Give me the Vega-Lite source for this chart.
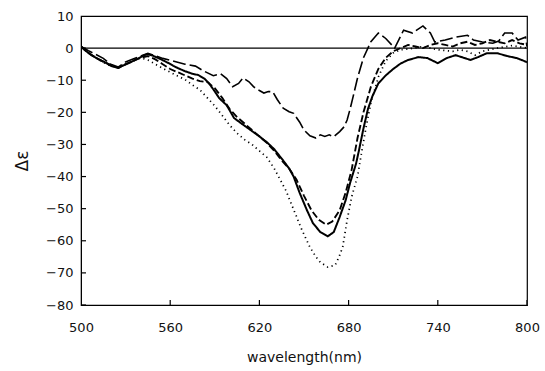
{
  "$schema": "https://vega.github.io/schema/vega-lite/v6.json",
  "width": 446,
  "height": 289,
  "autosize": "none",
  "padding": {"left": 81, "top": 16, "right": 18, "bottom": 66},
  "background": "white",
  "config": {
    "view": {"stroke": "black", "strokeWidth": 1.2},
    "axis": {"labelFont": "DejaVu Sans", "titleFont": "DejaVu Sans", "labelColor": "#111", "titleColor": "#111", "domainColor": "black", "labelFontSize": 13}
  },
  "datasets": {
    "curves": [
      {"s":"solid","x":500,"y":0.5},{"s":"solid","x":503,"y":-0.8},{"s":"solid","x":507,"y":-2.2},{"s":"solid","x":512,"y":-3.5},{"s":"solid","x":516,"y":-4.4},{"s":"solid","x":520,"y":-5.5},{"s":"solid","x":525,"y":-6.2},{"s":"solid","x":528,"y":-5.5},{"s":"solid","x":532,"y":-4.7},{"s":"solid","x":536,"y":-3.8},{"s":"solid","x":539,"y":-3.1},{"s":"solid","x":542,"y":-2.3},{"s":"solid","x":545,"y":-1.9},{"s":"solid","x":548,"y":-2.3},{"s":"solid","x":552,"y":-3.1},{"s":"solid","x":556,"y":-4},{"s":"solid","x":559,"y":-4.7},{"s":"solid","x":562,"y":-5.5},{"s":"solid","x":565,"y":-6.2},{"s":"solid","x":570,"y":-7.2},{"s":"solid","x":575,"y":-8},{"s":"solid","x":579,"y":-8.4},{"s":"solid","x":583,"y":-9.5},{"s":"solid","x":586,"y":-10.9},{"s":"solid","x":590,"y":-13.5},{"s":"solid","x":593,"y":-15.6},{"s":"solid","x":598,"y":-17.8},{"s":"solid","x":603,"y":-21.8},{"s":"solid","x":608,"y":-23.5},{"s":"solid","x":614,"y":-25.5},{"s":"solid","x":620,"y":-27.5},{"s":"solid","x":625,"y":-29.3},{"s":"solid","x":630,"y":-31.5},{"s":"solid","x":636,"y":-35},{"s":"solid","x":640,"y":-37.5},{"s":"solid","x":643,"y":-40},{"s":"solid","x":647,"y":-45},{"s":"solid","x":652,"y":-50.5},{"s":"solid","x":656,"y":-54.5},{"s":"solid","x":661,"y":-57.3},{"s":"solid","x":666,"y":-58.6},{"s":"solid","x":670,"y":-57.3},{"s":"solid","x":674,"y":-52.6},{"s":"solid","x":678,"y":-47.4},{"s":"solid","x":681,"y":-42},{"s":"solid","x":685,"y":-36},{"s":"solid","x":687,"y":-31.8},{"s":"solid","x":690,"y":-25},{"s":"solid","x":693,"y":-19},{"s":"solid","x":696,"y":-15},{"s":"solid","x":700,"y":-11},{"s":"solid","x":705,"y":-8.5},{"s":"solid","x":710,"y":-6.5},{"s":"solid","x":715,"y":-4.8},{"s":"solid","x":720,"y":-3.7},{"s":"solid","x":727,"y":-2.8},{"s":"solid","x":733,"y":-3.1},{"s":"solid","x":740,"y":-4.7},{"s":"solid","x":746,"y":-3.1},{"s":"solid","x":752,"y":-2.2},{"s":"solid","x":758,"y":-3.1},{"s":"solid","x":762,"y":-3.7},{"s":"solid","x":767,"y":-2.8},{"s":"solid","x":773,"y":-1.6},{"s":"solid","x":780,"y":-1.6},{"s":"solid","x":787,"y":-2.5},{"s":"solid","x":793,"y":-3.1},{"s":"solid","x":797,"y":-3.8},{"s":"solid","x":800,"y":-4.4},

      {"s":"mdash","x":500,"y":0.5},{"s":"mdash","x":505,"y":-1.5},{"s":"mdash","x":510,"y":-3},{"s":"mdash","x":515,"y":-4.2},{"s":"mdash","x":520,"y":-5.2},{"s":"mdash","x":525,"y":-6.2},{"s":"mdash","x":530,"y":-5},{"s":"mdash","x":535,"y":-4},{"s":"mdash","x":540,"y":-3},{"s":"mdash","x":545,"y":-2.5},{"s":"mdash","x":550,"y":-3.5},{"s":"mdash","x":555,"y":-5},{"s":"mdash","x":560,"y":-6.5},{"s":"mdash","x":565,"y":-7.5},{"s":"mdash","x":570,"y":-8.5},{"s":"mdash","x":575,"y":-9.5},{"s":"mdash","x":580,"y":-10.3},{"s":"mdash","x":585,"y":-10.6},{"s":"mdash","x":590,"y":-12.5},{"s":"mdash","x":595,"y":-15.5},{"s":"mdash","x":600,"y":-19},{"s":"mdash","x":605,"y":-21.5},{"s":"mdash","x":610,"y":-23.5},{"s":"mdash","x":615,"y":-25.5},{"s":"mdash","x":620,"y":-27.5},{"s":"mdash","x":625,"y":-29.5},{"s":"mdash","x":630,"y":-32},{"s":"mdash","x":635,"y":-35},{"s":"mdash","x":640,"y":-37.5},{"s":"mdash","x":645,"y":-41},{"s":"mdash","x":650,"y":-46},{"s":"mdash","x":655,"y":-50.5},{"s":"mdash","x":660,"y":-53.5},{"s":"mdash","x":665,"y":-55},{"s":"mdash","x":669,"y":-54},{"s":"mdash","x":674,"y":-50.5},{"s":"mdash","x":678,"y":-45},{"s":"mdash","x":682,"y":-38},{"s":"mdash","x":686,"y":-28},{"s":"mdash","x":690,"y":-20},{"s":"mdash","x":695,"y":-12},{"s":"mdash","x":700,"y":-6.5},{"s":"mdash","x":705,"y":-3},{"s":"mdash","x":710,"y":-1},{"s":"mdash","x":715,"y":0},{"s":"mdash","x":720,"y":1},{"s":"mdash","x":725,"y":0.5},{"s":"mdash","x":730,"y":0},{"s":"mdash","x":735,"y":1},{"s":"mdash","x":740,"y":1.5},{"s":"mdash","x":745,"y":1},{"s":"mdash","x":750,"y":0.5},{"s":"mdash","x":755,"y":1.5},{"s":"mdash","x":760,"y":2},{"s":"mdash","x":765,"y":1},{"s":"mdash","x":770,"y":1.5},{"s":"mdash","x":775,"y":2.5},{"s":"mdash","x":780,"y":2},{"s":"mdash","x":785,"y":1.5},{"s":"mdash","x":790,"y":2.5},{"s":"mdash","x":795,"y":1.5},{"s":"mdash","x":800,"y":1},

      {"s":"dot","x":500,"y":0.5},{"s":"dot","x":505,"y":-1.5},{"s":"dot","x":510,"y":-3},{"s":"dot","x":515,"y":-4.5},{"s":"dot","x":520,"y":-5.5},{"s":"dot","x":525,"y":-6},{"s":"dot","x":530,"y":-5},{"s":"dot","x":535,"y":-4},{"s":"dot","x":540,"y":-3},{"s":"dot","x":545,"y":-3.7},{"s":"dot","x":550,"y":-5},{"s":"dot","x":555,"y":-6.3},{"s":"dot","x":560,"y":-7.5},{"s":"dot","x":565,"y":-8.7},{"s":"dot","x":570,"y":-9.8},{"s":"dot","x":575,"y":-11.5},{"s":"dot","x":580,"y":-13},{"s":"dot","x":585,"y":-15.5},{"s":"dot","x":590,"y":-18},{"s":"dot","x":595,"y":-21},{"s":"dot","x":600,"y":-24},{"s":"dot","x":605,"y":-26.5},{"s":"dot","x":610,"y":-28.5},{"s":"dot","x":615,"y":-30},{"s":"dot","x":620,"y":-32},{"s":"dot","x":625,"y":-34},{"s":"dot","x":630,"y":-37.5},{"s":"dot","x":634,"y":-41},{"s":"dot","x":638,"y":-44.5},{"s":"dot","x":641,"y":-48},{"s":"dot","x":645,"y":-52.5},{"s":"dot","x":648,"y":-56},{"s":"dot","x":651,"y":-59},{"s":"dot","x":654,"y":-62},{"s":"dot","x":658,"y":-65},{"s":"dot","x":661,"y":-66.7},{"s":"dot","x":666,"y":-68.2},{"s":"dot","x":671,"y":-67.6},{"s":"dot","x":674,"y":-64.5},{"s":"dot","x":676,"y":-62},{"s":"dot","x":679,"y":-53.6},{"s":"dot","x":682,"y":-46.4},{"s":"dot","x":686,"y":-40},{"s":"dot","x":689,"y":-31.8},{"s":"dot","x":692,"y":-24},{"s":"dot","x":695,"y":-17},{"s":"dot","x":700,"y":-9},{"s":"dot","x":705,"y":-4},{"s":"dot","x":710,"y":-1.5},{"s":"dot","x":715,"y":-0.5},{"s":"dot","x":720,"y":-0.3},{"s":"dot","x":730,"y":0.5},{"s":"dot","x":740,"y":-0.5},{"s":"dot","x":750,"y":-1},{"s":"dot","x":755,"y":-0.5},{"s":"dot","x":760,"y":-1},{"s":"dot","x":765,"y":-2.2},{"s":"dot","x":770,"y":-1},{"s":"dot","x":780,"y":0},{"s":"dot","x":790,"y":0.8},{"s":"dot","x":800,"y":0},

      {"s":"ldash","x":500,"y":0.5},{"s":"ldash","x":505,"y":-0.8},{"s":"ldash","x":510,"y":-2},{"s":"ldash","x":515,"y":-3.2},{"s":"ldash","x":520,"y":-5},{"s":"ldash","x":525,"y":-5.9},{"s":"ldash","x":530,"y":-4.3},{"s":"ldash","x":535,"y":-3.4},{"s":"ldash","x":540,"y":-2.5},{"s":"ldash","x":545,"y":-1.6},{"s":"ldash","x":550,"y":-2.4},{"s":"ldash","x":555,"y":-3.2},{"s":"ldash","x":560,"y":-3.8},{"s":"ldash","x":565,"y":-4.4},{"s":"ldash","x":570,"y":-5},{"s":"ldash","x":577,"y":-5.6},{"s":"ldash","x":582,"y":-7},{"s":"ldash","x":589,"y":-8.6},{"s":"ldash","x":594,"y":-8},{"s":"ldash","x":598,"y":-9.5},{"s":"ldash","x":602,"y":-12},{"s":"ldash","x":606,"y":-11},{"s":"ldash","x":609,"y":-9.3},{"s":"ldash","x":613,"y":-10.5},{"s":"ldash","x":616,"y":-12},{"s":"ldash","x":620,"y":-13.2},{"s":"ldash","x":623,"y":-14},{"s":"ldash","x":626,"y":-13.5},{"s":"ldash","x":629,"y":-13.6},{"s":"ldash","x":632,"y":-16},{"s":"ldash","x":636,"y":-18.7},{"s":"ldash","x":640,"y":-19.8},{"s":"ldash","x":643,"y":-20.3},{"s":"ldash","x":647,"y":-23},{"s":"ldash","x":650,"y":-25.5},{"s":"ldash","x":654,"y":-27.3},{"s":"ldash","x":658,"y":-28},{"s":"ldash","x":661,"y":-27},{"s":"ldash","x":664,"y":-27.5},{"s":"ldash","x":667,"y":-27},{"s":"ldash","x":670,"y":-27.6},{"s":"ldash","x":674,"y":-26},{"s":"ldash","x":677,"y":-24.5},{"s":"ldash","x":679,"y":-22.4},{"s":"ldash","x":681,"y":-19},{"s":"ldash","x":683,"y":-15.2},{"s":"ldash","x":686,"y":-9.3},{"s":"ldash","x":690,"y":-3},{"s":"ldash","x":695,"y":2},{"s":"ldash","x":700,"y":4.7},{"s":"ldash","x":705,"y":3},{"s":"ldash","x":711,"y":0},{"s":"ldash","x":717,"y":5.6},{"s":"ldash","x":723,"y":4.7},{"s":"ldash","x":730,"y":6.9},{"s":"ldash","x":735,"y":4.7},{"s":"ldash","x":738,"y":1.9},{"s":"ldash","x":745,"y":2.5},{"s":"ldash","x":752,"y":3.4},{"s":"ldash","x":760,"y":4},{"s":"ldash","x":764,"y":2.5},{"s":"ldash","x":770,"y":1.9},{"s":"ldash","x":777,"y":1.5},{"s":"ldash","x":781,"y":2.2},{"s":"ldash","x":785,"y":4.7},{"s":"ldash","x":790,"y":4.7},{"s":"ldash","x":794,"y":2.5},{"s":"ldash","x":799,"y":3.4},{"s":"ldash","x":800,"y":0.5}
    ]
  },
  "resolve": {"axis": {"x": "independent", "y": "independent"}},
  "layer": [
    {
      "data": {"name": "curves"},
      "mark": {"type": "line", "color": "black", "clip": true},
      "encoding": {
        "x": {"field": "x", "type": "quantitative", "scale": {"domain": [500, 800], "nice": false, "zero": false},
              "axis": {"orient": "bottom", "values": [500, 560, 620, 680, 740, 800], "title": "wavelength(nm)", "titleFontSize": 14, "titleFontWeight": "normal", "titlePadding": 16, "ticks": false, "labelPadding": 16, "labelFlush": false, "labelOverlap": false, "grid": false}},
        "y": {"field": "y", "type": "quantitative", "scale": {"domain": [-80, 10], "nice": false},
              "axis": {"orient": "left", "values": [-80, -70, -60, -50, -40, -30, -20, -10, 0, 10], "title": "Δε", "titleFontSize": 17, "titleFontWeight": "normal", "titlePadding": 14, "ticks": false, "labelPadding": 8, "labelOverlap": false, "labelFlush": false, "grid": false}},
        "detail": {"field": "s"},
        "strokeDash": {"field": "s", "type": "nominal", "scale": {"domain": ["solid", "mdash", "dot", "ldash"], "range": [[1, 0], [7, 3], [1.2, 3.5], [13, 4]]}, "legend": null},
        "strokeWidth": {"field": "s", "type": "nominal", "scale": {"domain": ["solid", "mdash", "dot", "ldash"], "range": [2, 1.6, 1.3, 1.6]}, "legend": null}
      }
    },
    {
      "data": {"values": [{"zero": 0}]},
      "mark": {"type": "rule", "color": "black", "strokeWidth": 1.2},
      "encoding": {"y": {"field": "zero", "type": "quantitative", "axis": null}}
    },
    {
      "data": {"values": [{"v": -80}, {"v": -70}, {"v": -60}, {"v": -50}, {"v": -40}, {"v": -30}, {"v": -20}, {"v": -10}, {"v": 0}, {"v": 10}]},
      "mark": {"type": "tick", "orient": "horizontal", "color": "black", "size": 10, "thickness": 1.2, "clip": true, "opacity": 1},
      "encoding": {
        "y": {"field": "v", "type": "quantitative", "axis": null},
        "x": {"datum": 500, "type": "quantitative", "axis": null}
      }
    },
    {
      "data": {"values": [{"w": 500}, {"w": 560}, {"w": 620}, {"w": 680}, {"w": 740}, {"w": 800}]},
      "mark": {"type": "tick", "orient": "vertical", "color": "black", "size": 10, "thickness": 1.2, "clip": true, "opacity": 1},
      "encoding": {
        "x": {"field": "w", "type": "quantitative", "axis": null},
        "y": {"datum": -80, "type": "quantitative", "axis": null}
      }
    }
  ]
}
